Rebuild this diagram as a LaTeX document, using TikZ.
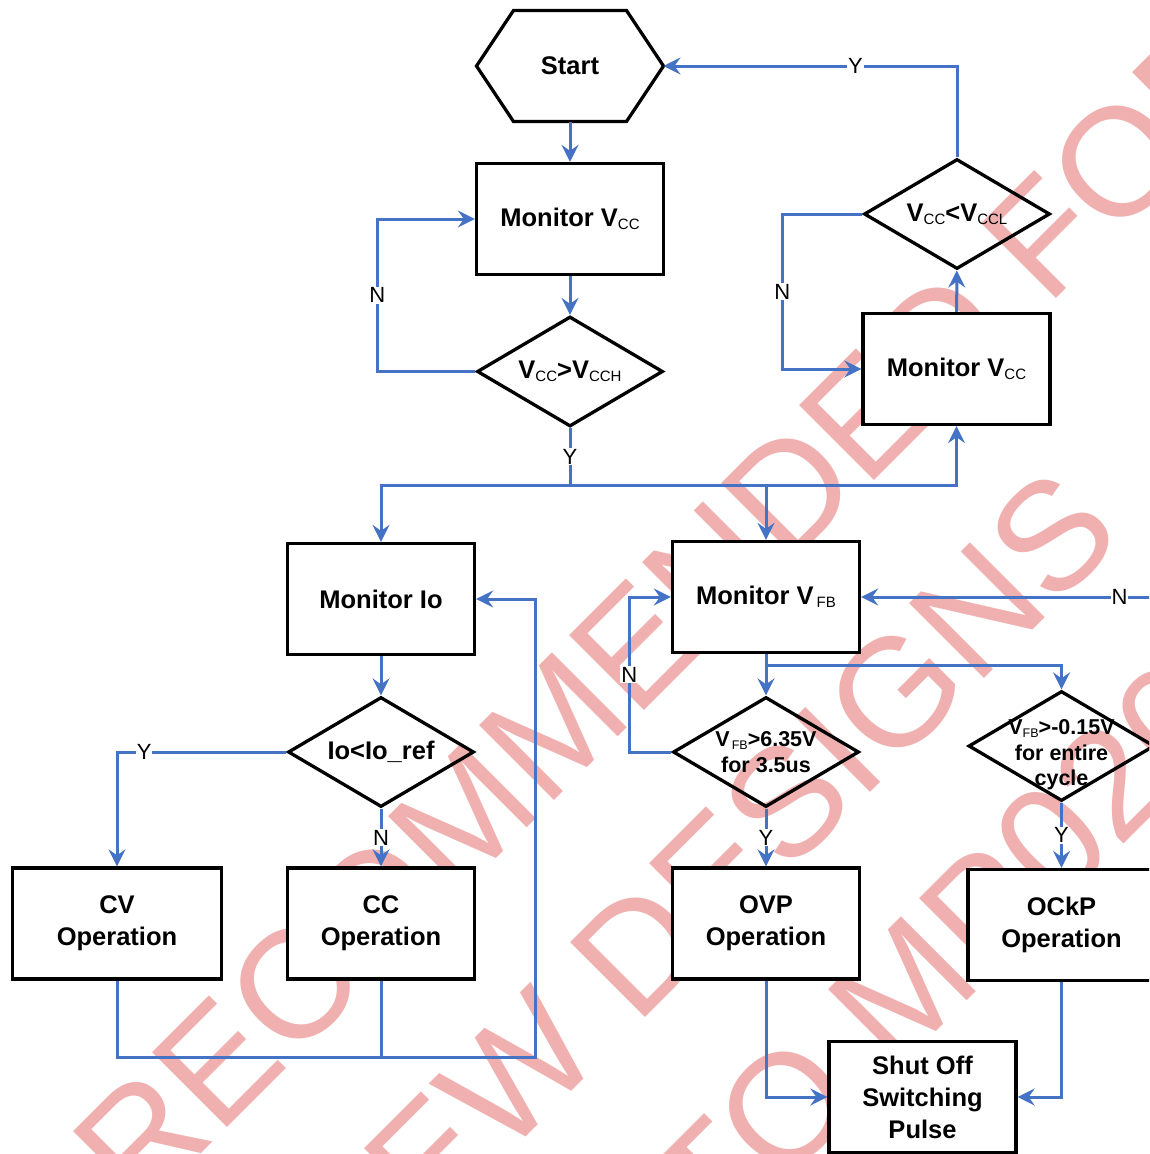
\documentclass[tikz,border=0pt]{standalone}
\usepackage{fontspec}
\setmainfont{Liberation Sans}
\usepackage{xcolor}
\usetikzlibrary{shapes.geometric, arrows.meta}
\definecolor{flow-blue}{RGB}{68,114,196}
\definecolor{mark-pink}{RGB}{240,176,176}
\newcommand{\vsub}[1]{\raisebox{-3pt}{\fontsize{15}{15}\selectfont\mdseries #1}}
\newcommand{\dsub}[1]{\raisebox{-3pt}{\fontsize{12.5}{12.5}\selectfont\mdseries #1}}

\begin{document}
\begin{tikzpicture}[
  x=1pt, y=-1pt,
  box/.style={draw, line width=3.3pt, fill=white, minimum width=187pt, minimum height=111pt,
    inner sep=0pt, align=center, font=\fontsize{25.5}{32}\selectfont\bfseries},
  hexa/.style={minimum width=187pt, minimum height=111pt, inner sep=0pt, outer sep=0pt,
    font=\fontsize{25.5}{32}\selectfont\bfseries},
  decision/.style={diamond, draw, line width=3.3pt, minimum width=186pt, minimum height=110pt, inner sep=0pt},
  dtext/.style={align=center, font=\fontsize{21.5}{25.5}\selectfont\bfseries},
  btext/.style={align=center, font=\fontsize{25.5}{32}\selectfont\bfseries},
  flow/.style={draw=flow-blue, line width=3pt, -{Stealth[length=17pt, width=17pt, inset=6pt]}},
  line/.style={draw=flow-blue, line width=3pt},
  lbl/.style={fill=white, inner sep=1pt, font=\fontsize{22}{22}\selectfont},
  wmark/.style={rotate=45, text=mark-pink, inner sep=0pt, font=\fontsize{154}{154}\selectfont},
]
  \useasboundingbox (0,0) rectangle (1149,1154);
  \clip (0,0) rectangle (1149,1154);

  \node[wmark] (wm1) at (541,739) {NOT RECOMMENDED FOR};
  \node[wmark] (wm2) at (702,886) {NEW DESIGNS};
  \node[wmark] (wm3) at (789,1104) {REFER TO MP020-5};

  \node[hexa] (start) at (570,66) {Start};
  \draw[line width=3.3pt, line join=miter] (start.west) -- ([xshift=37pt]start.north west) -- ([xshift=-37pt]start.north east)
    -- (start.east) -- ([xshift=-37pt]start.south east) -- ([xshift=37pt]start.south west) -- cycle;
  \node[box] (mvcc) at (570,219) {Monitor V\vsub{CC}};
  \node[decision, label={[btext]center:V\vsub{CC}>V\vsub{CCH}}] (dhigh) at (570,371.5) {};
  \node[box] (mvccb) at (956.5,369) {Monitor V\vsub{CC}};
  \node[decision, label={[btext]center:V\vsub{CC}<V\vsub{CCL}}] (dlow) at (957,214) {};
  \node[box] (mio) at (381,599) {Monitor Io};
  \node[box] (mvfb) at (766,597) {Monitor V\hspace{3pt}\vsub{FB}};
  \node[decision, label={[btext]center:Io<Io\_ref}] (dio) at (381,752) {};
  \node[decision, label={[dtext]center:{V\hspace{2pt}\dsub{FB}>6.35V\\for 3.5us}}] (dovp) at (766,752) {};
  \node[decision, label={[dtext, yshift=-9pt]center:{V\dsub{FB}>-0.15V\\for entire\\cycle}}] (dock) at (1061.5,746) {};
  \node[box, minimum width=209pt] (cv) at (117,923.5) {CV\\Operation};
  \node[box] (cc) at (381,923.5) {CC\\Operation};
  \node[box] (ovp) at (766,923.5) {OVP\\Operation};
  \node[box] (ockp) at (1061.5,925) {OCkP\\Operation};
  \node[box] (shut) at (922.5,1097) {Shut Off\\Switching\\Pulse};
  \coordinate (iojoin) at (535,1057);

  \draw[flow] (start) -- (mvcc);
  \draw[flow] (mvcc) -- (dhigh);
  \draw[flow] (dhigh.west) -- ++(-98,0) |- node[lbl, pos=.25] {N} (mvcc.west);
  \draw[line] (dhigh.south) -- node[lbl] {Y} ++(0,57) coordinate (ysplit);
  \draw[flow] (ysplit) -| (mio.north);
  \draw[flow] (ysplit) -| (mvfb.north);
  \draw[flow] (ysplit) -| (mvccb.south);
  \draw[flow] (mvccb) -- (dlow);
  \draw[flow] (dlow.west) -- ++(-80,0) |- node[lbl, pos=.25] {N} (mvccb.west);
  \draw[flow] (dlow.north) |- node[lbl, pos=.673] {Y} (start.east);
  \draw[flow] (mio) -- (dio);
  \draw[flow] (dio.west) -| node[lbl, pos=.42] {Y} (cv.north);
  \draw[flow] (dio) -- node[lbl] {N} (cc);
  \draw[flow] (cv.south) |- (iojoin) |- (mio.east);
  \draw[line] (cc.south) -- (cc.south |- iojoin);
  \draw[flow] (mvfb) -- (dovp);
  \draw[flow] (mvfb.south) -- ++(0,11) -| (dock.north);
  \draw[flow] (dovp.west) -- ++(-42,0) |- node[lbl, pos=.25] {N} (mvfb.west);
  \draw[flow] (dovp) -- node[lbl] {Y} (ovp);
  \draw[flow] (dock) -- node[lbl] {Y} (ockp);
  \draw[flow] (dock.east) -- ++(20,0) |- node[lbl, pos=.59] {N} (mvfb.east);
  \draw[flow] (ovp.south) |- (shut.west);
  \draw[flow] (ockp.south) |- (shut.east);
\end{tikzpicture}
\end{document}
